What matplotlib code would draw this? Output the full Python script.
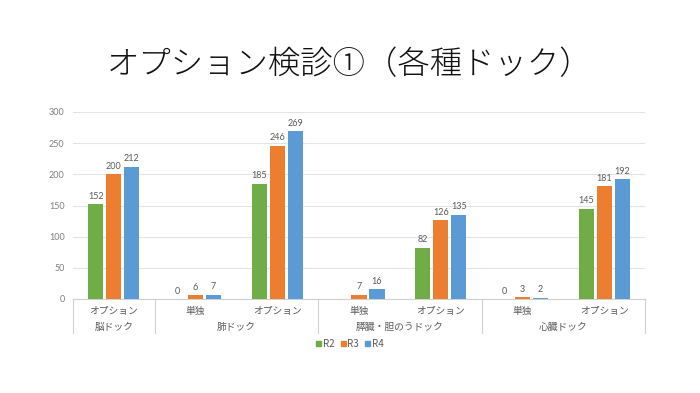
import numpy as np
import matplotlib
matplotlib.use("Agg")
import matplotlib.pyplot as plt
from matplotlib.transforms import blended_transform_factory
from matplotlib.patches import Patch

plt.rcParams['font.family'] = ['Noto Sans CJK JP', 'DejaVu Sans']

title = "オプション検診①（各種ドック）"
groups = ["脳ドック", "肺ドック", "膵臓・胆のうドック", "心臓ドック"]
group_sizes = [1, 2, 2, 2]
subcats = ["オプション", "単独", "オプション", "単独", "オプション", "単独", "オプション"]
series_names = ["R2", "R3", "R4"]
r2 = [152, 0, 185, np.nan, 82, 0, 145]
r3 = [200, 6, 246, 7, 126, 3, 181]
r4 = [212, 7, 269, 16, 135, 2, 192]
colors = ["#70AD47", "#ED7D31", "#5B9BD5"]
yticks = [0, 50, 100, 150, 200, 250, 300]

fig = plt.figure(figsize=(7, 3.93), dpi=100)
ax = fig.add_axes([73/700, 1-299/393, (645-73)/700, (299-112)/393])

x = np.arange(len(subcats))
width = 0.185
offsets = [-0.22, 0.0, 0.22]
label_c = "#595959"
for vals, off, c, name in zip([r2, r3, r4], offsets, colors, series_names):
    v = np.array(vals, dtype=float)
    ax.bar(x + off, v, width=width, color=c, label=name, zorder=3)
    for xi, vi in zip(x, v):
        if not np.isnan(vi):
            ax.annotate(f"{int(vi)}", (xi + off, vi), xytext=(0, 2.5),
                        textcoords="offset points", ha="center", va="bottom",
                        fontsize=6.5, color=label_c, family=['Lato', 'DejaVu Sans'])

ax.set_xlim(-0.5, len(subcats) - 0.5)
ax.set_ylim(0, 300)
ax.set_yticks(yticks)
ax.set_yticklabels([str(t) for t in yticks], fontsize=6.5, color="#7F7F7F",
                   family=['Lato', 'DejaVu Sans'])
ax.tick_params(axis='y', length=0, pad=6)
ax.set_xticks([])
ax.grid(axis='y', color="#E3E3E3", linewidth=0.8, zorder=0)
for s in ["top", "right", "left"]:
    ax.spines[s].set_visible(False)
ax.spines["bottom"].set_color("#D0D0D0")
ax.spines["bottom"].set_linewidth(0.8)

trans = blended_transform_factory(ax.transData, ax.transAxes)
axh = (299-112)
for xi, s in zip(x, subcats):
    ax.text(xi, -12/axh, s, transform=trans, ha="center", va="center",
            fontsize=7, color=label_c)
start = -0.5
bounds = [start]
for gname, n in zip(groups, group_sizes):
    center = start + n/2
    ax.text(center, -28/axh, gname, transform=trans, ha="center", va="center",
            fontsize=7, color=label_c)
    start += n
    bounds.append(start)
for b in bounds:
    ax.plot([b, b], [0, -34/axh], transform=trans, color="#D0D0D0",
            linewidth=0.8, clip_on=False)

handles = [Patch(color=c, label=n) for c, n in zip(colors, series_names)]
fig.legend(handles=handles, loc="center", bbox_to_anchor=(350/700, 1-344/393),
           ncol=3, frameon=False, fontsize=7, handlelength=0.5, handleheight=0.5,
           handletextpad=0.2, columnspacing=0.6, labelcolor=label_c)

fig.text(349/700, 1-65/393, title, ha="center", va="center", fontsize=23.3,
         color="#111111", fontweight="light")

fig.savefig("out.png", dpi=100, facecolor="white")
